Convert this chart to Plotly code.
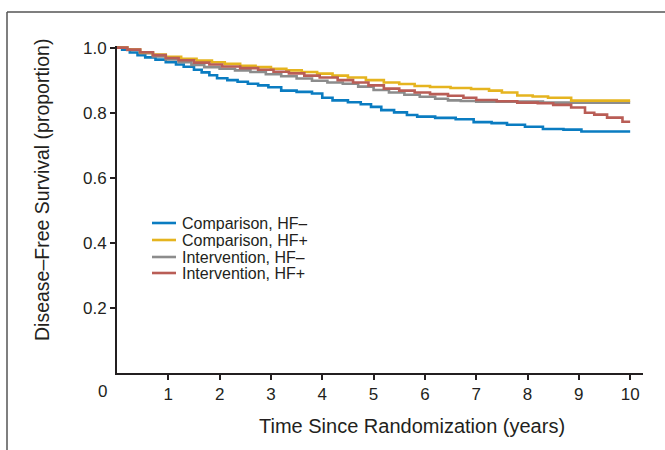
import plotly.graph_objects as go

# ---- data ----
cmp_neg_t = [0, 0.1, 0.25, 0.4, 0.55, 0.75, 0.95, 1.15, 1.3, 1.5, 1.65, 1.8, 1.95, 2.15, 2.35, 2.55,
             2.75, 2.95, 3.2, 3.5, 3.8, 4.0, 4.2, 4.5, 4.75, 4.95, 5.15, 5.4, 5.65, 5.85, 6.2, 6.6,
             6.95, 7.3, 7.6, 7.95, 8.3, 8.7, 9.05, 10.0]
cmp_neg_s = [1.0, 0.994, 0.985, 0.977, 0.970, 0.963, 0.955, 0.948, 0.941, 0.932, 0.924, 0.915, 0.906,
             0.900, 0.895, 0.889, 0.884, 0.878, 0.868, 0.864, 0.859, 0.846, 0.838, 0.832, 0.826, 0.818,
             0.808, 0.801, 0.793, 0.788, 0.784, 0.780, 0.771, 0.768, 0.763, 0.757, 0.750, 0.748, 0.742,
             0.742]

cmp_pos_t = [0, 0.2, 0.45, 0.7, 0.95, 1.25, 1.55, 1.85, 2.1, 2.4, 2.7, 3.0, 3.3, 3.6, 3.9, 4.2, 4.5,
             4.85, 5.2, 5.5, 5.8, 6.1, 6.5, 6.9, 7.25, 7.5, 7.8, 8.1, 8.4, 8.85, 10.0]
cmp_pos_s = [1.0, 0.994, 0.986, 0.979, 0.972, 0.966, 0.960, 0.955, 0.950, 0.944, 0.940, 0.935, 0.930,
             0.925, 0.920, 0.914, 0.908, 0.900, 0.893, 0.888, 0.882, 0.879, 0.876, 0.873, 0.868, 0.862,
             0.853, 0.850, 0.846, 0.837, 0.837]

int_neg_t = [0, 0.2, 0.45, 0.7, 0.95, 1.2, 1.45, 1.7, 2.0, 2.3, 2.6, 2.9, 3.2, 3.5, 3.8, 4.1, 4.4,
             4.7, 5.0, 5.3, 5.6, 5.9, 6.2, 6.45, 6.7, 7.0, 8.3, 10.0]
int_neg_s = [1.0, 0.993, 0.983, 0.973, 0.964, 0.955, 0.947, 0.940, 0.935, 0.930, 0.925, 0.918, 0.912,
             0.905, 0.898, 0.893, 0.889, 0.880, 0.870, 0.862, 0.855, 0.849, 0.843, 0.838, 0.836, 0.834,
             0.831, 0.831]

int_pos_t = [0, 0.2, 0.45, 0.7, 0.95, 1.2, 1.5, 1.8, 2.05, 2.4, 2.75, 3.05, 3.35, 3.65, 3.95, 4.3,
             4.6, 4.9, 5.2, 5.5, 5.8, 6.1, 6.45, 6.75, 7.0, 7.4, 7.8, 8.2, 8.5, 8.85, 9.12, 9.3, 9.55,
             9.85, 10.0]
int_pos_s = [1.0, 0.994, 0.986, 0.977, 0.968, 0.961, 0.954, 0.948, 0.942, 0.937, 0.932, 0.926, 0.921,
             0.914, 0.908, 0.900, 0.893, 0.884, 0.874, 0.868, 0.862, 0.857, 0.852, 0.846, 0.839, 0.835,
             0.831, 0.829, 0.824, 0.816, 0.800, 0.794, 0.785, 0.772, 0.772]

series_names = ["Comparison, HF–", "Comparison, HF+", "Intervention, HF–", "Intervention, HF+"]
series_colors = ["#0a7cc1", "#e5b41f", "#8c8c8c", "#b95d56"]

x_ticks = [1, 2, 3, 4, 5, 6, 7, 8, 9, 10]
y_ticks = [0.2, 0.4, 0.6, 0.8, 1.0]
y_tick_text = ["0.2", "0.4", "0.6", "0.8", "1.0"]

# ---- layout geometry ----
W, H = 665, 450
L, R, T, B = 117, 22, 46, 77
PW, PH = W - L - R, H - T - B
FONT = "Liberation Sans, Arial, Helvetica, sans-serif"
INK = "#231f20"


def px(xp):
    return (xp - L) / PW


def py(yp):
    return (H - B - yp) / PH


fig = go.Figure()
data = [(cmp_neg_t, cmp_neg_s), (cmp_pos_t, cmp_pos_s), (int_neg_t, int_neg_s), (int_pos_t, int_pos_s)]
for idx in [0, 2, 1, 3]:
    t, s = data[idx]
    fig.add_trace(go.Scatter(x=t, y=s, mode="lines", line=dict(color=series_colors[idx], width=2.6, shape="hv"),
                             name=series_names[idx], showlegend=False, hoverinfo="skip"))

shapes = []
annotations = []
# manual legend
legend_rows = [223, 240, 257, 273]
for i, name in enumerate(series_names):
    yy = py(legend_rows[i])
    shapes.append(dict(type="line", xref="paper", yref="paper", x0=px(152), x1=px(176), y0=yy, y1=yy,
                       line=dict(color=series_colors[i], width=2.6)))
    annotations.append(dict(xref="paper", yref="paper", x=px(181), y=yy, xanchor="left", yanchor="middle",
                            text=name, showarrow=False, height=16, borderpad=0,
                            font=dict(family=FONT, size=16, color=INK)))

# outer frame (partial box)
shapes.append(dict(type="line", xref="paper", yref="paper", x0=px(7), x1=px(7), y0=py(12), y1=py(460),
                   line=dict(color="#555555", width=1.5)))
shapes.append(dict(type="line", xref="paper", yref="paper", x0=px(7), x1=px(670), y0=py(12), y1=py(12),
                   line=dict(color="#555555", width=1.5)))

# origin label "0"
annotations.append(dict(xref="paper", yref="paper", x=px(102), y=py(391), xanchor="center", yanchor="middle",
                        text="0", showarrow=False, font=dict(family=FONT, size=17, color=INK)))
# axis titles
annotations.append(dict(xref="paper", yref="paper", x=px(412), y=py(426), xanchor="center", yanchor="middle",
                        text="Time Since Randomization (years)", showarrow=False,
                        font=dict(family=FONT, size=20, color=INK)))
annotations.append(dict(xref="paper", yref="paper", x=px(42), y=py(190), xanchor="center", yanchor="middle",
                        text="Disease–Free Survival (proportion)", showarrow=False, textangle=-90,
                        font=dict(family=FONT, size=19.5, color=INK)))

fig.update_layout(
    width=W, height=H,
    margin=dict(l=L, r=R, t=T, b=B),
    paper_bgcolor="white", plot_bgcolor="white",
    font=dict(family=FONT, color=INK),
    shapes=shapes, annotations=annotations,
    xaxis=dict(range=[0, 10.25], tickvals=x_ticks, ticks="outside", ticklen=5, tickwidth=1.5,
               tickcolor=INK, showline=True, linecolor=INK, linewidth=2, showgrid=False, zeroline=False,
               tickfont=dict(family=FONT, size=17, color=INK)),
    yaxis=dict(range=[0, 1.005], tickvals=y_ticks, ticktext=y_tick_text, ticks="outside", ticklen=5,
               tickwidth=1.5, tickcolor=INK, showline=True, linecolor=INK, linewidth=2, showgrid=False,
               zeroline=False, tickfont=dict(family=FONT, size=17, color=INK)),
)

fig.write_html("out.html", config={"displayModeBar": False},
               post_script="document.body.style.margin='0';document.body.style.overflow='hidden';")
